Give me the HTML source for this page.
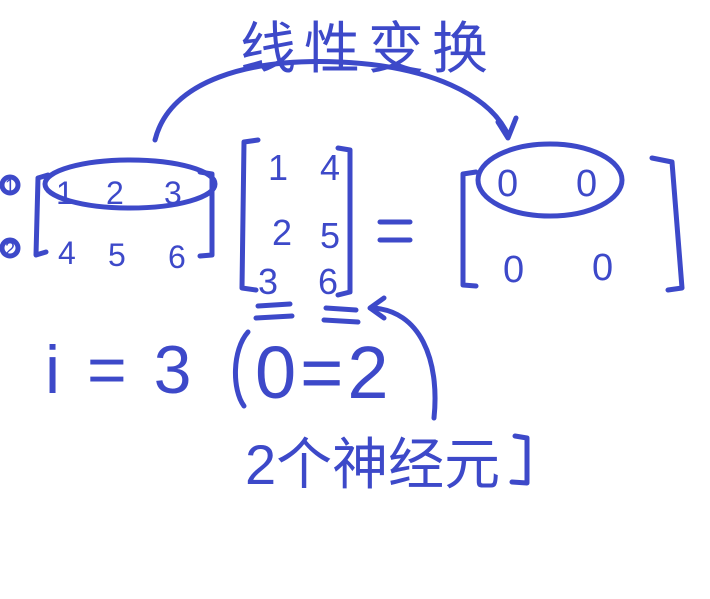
<!DOCTYPE html>
<html><head><meta charset="utf-8"><style>
html,body{margin:0;padding:0;background:#fff;}
svg{display:block}
text{font-family:"Liberation Sans","Noto Sans CJK SC",sans-serif;fill:#3d49c9;}
</style></head><body>
<svg width="710" height="599" viewBox="0 0 710 599">
<g fill="none" stroke="#3d49c9" stroke-width="5" stroke-linecap="round" stroke-linejoin="round">
  <path d="M155 140 C170 80 250 58 340 62 C430 66 490 95 508 135"/>
  <path d="M498 122 L508 138 L516 118"/>
  <path d="M48 175 L38 178 L36 255 L46 252"/>
  <path d="M200 172 L212 174 L212 255 L200 256"/>
  <ellipse cx="130" cy="184" rx="85" ry="24"/>
  <circle cx="10" cy="185" r="8"/>
  <circle cx="10" cy="248" r="8"/>
  <path d="M258 140 L244 142 L242 288 L256 290"/>
  <path d="M338 148 L350 150 L350 292 L338 295"/>
  <path d="M380 222 L410 222 M380 240 L410 240"/>
  <path d="M476 172 L463 174 L463 285 L476 286"/>
  <path d="M652 158 L672 162 L682 288 L668 290"/>
  <ellipse cx="550" cy="180" rx="72" ry="36"/>
  <path d="M258 306 L290 304 M256 318 L292 316"/>
  <path d="M326 308 L356 310 M324 320 L358 322"/>
  <path d="M434 418 C440 360 420 310 372 308"/>
  <path d="M384 298 L370 308 L384 318"/>
  <path d="M248 332 C232 350 232 390 244 406"/>
  <path d="M515 436 L527 438 L527 483 L512 482"/>
</g>
<text x="240" y="68" font-size="56" letter-spacing="8">线性变换</text>
<g font-size="32">
<text x="56" y="204">1</text>
<text x="106" y="204">2</text>
<text x="164" y="204">3</text>
<text x="58" y="264">4</text>
<text x="108" y="266">5</text>
<text x="168" y="268">6</text>
</g>
<text x="5" y="192" font-size="18">1</text>
<text x="5" y="255" font-size="18">2</text>
<g font-size="36">
<text x="268" y="180">1</text>
<text x="320" y="180">4</text>
<text x="272" y="245">2</text>
<text x="320" y="248">5</text>
<text x="258" y="294">3</text>
<text x="318" y="294">6</text>
</g>
<g font-size="38">
<text x="497" y="196">0</text>
<text x="576" y="196">0</text>
<text x="503" y="282">0</text>
<text x="592" y="280">0</text>
</g>
<text x="45" y="393" font-size="68" letter-spacing="4">i = 3</text>
<text x="255" y="398" font-size="74" letter-spacing="4">0=2</text>
<text x="245" y="484" font-size="56">2个神经元</text>
</svg>
</body></html>
